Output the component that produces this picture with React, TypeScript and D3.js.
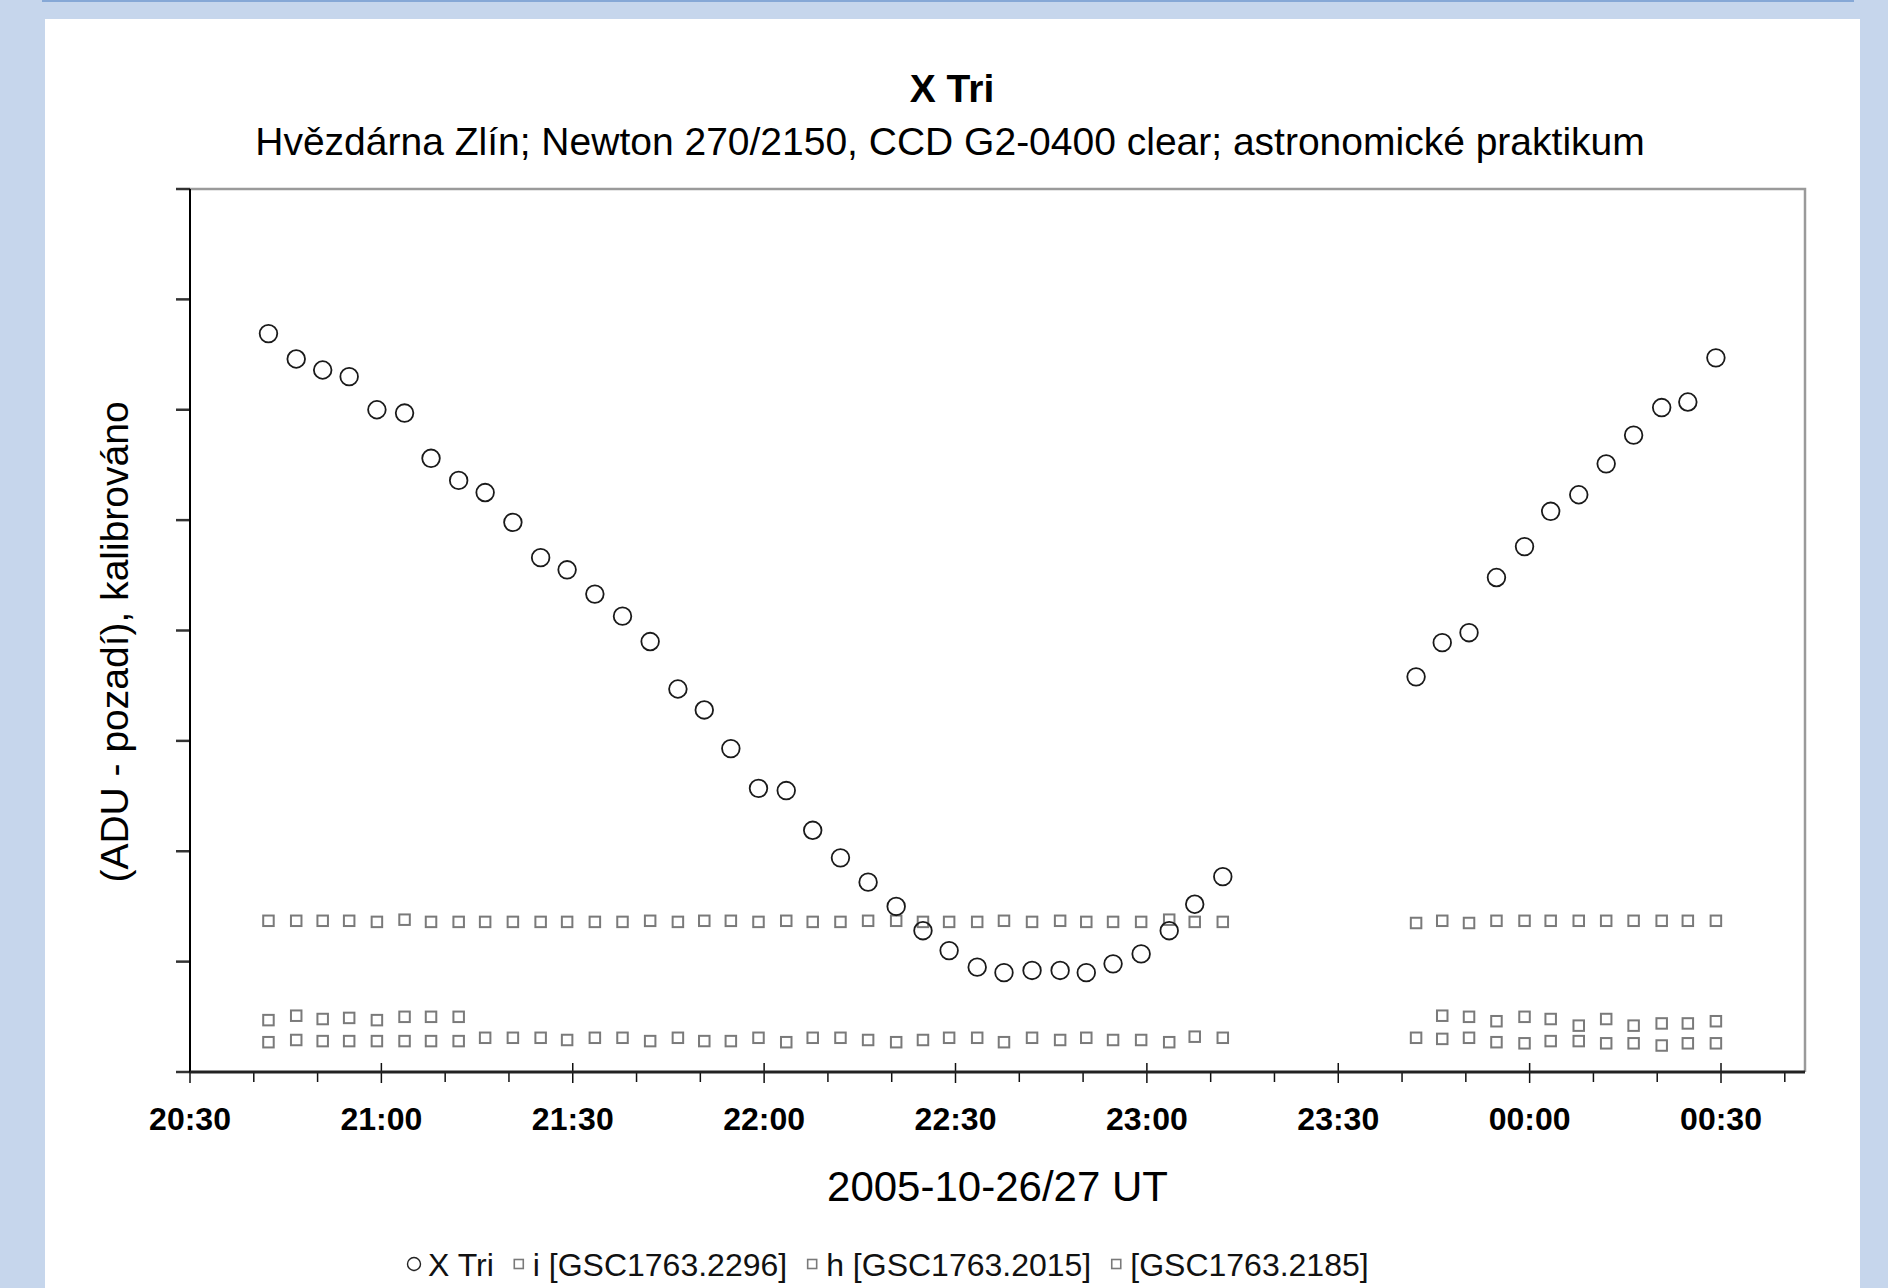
import * as d3 from 'd3';
import React, {useEffect, useRef} from "react";

const WIDTH = 1888;
const HEIGHT = 1288;
const FONT = "'Liberation Sans', Arial, Helvetica, sans-serif";

const TITLE = "X Tri";
const SUBTITLE = "Hvězdárna Zlín; Newton 270/2150, CCD G2-0400 clear; astronomické praktikum";
const X_LABEL = "2005-10-26/27 UT";
const Y_LABEL = "(ADU - pozadí), kalibrováno";
const SERIES_NAMES = ["X Tri", "i [GSC1763.2296]", "h [GSC1763.2015]", "[GSC1763.2185]"];

// exposure times (UT), night 2005-10-26/27
const times = [
    "20:42:18", "20:46:39", "20:50:48", "20:54:57", "20:59:18", "21:03:38", "21:07:47", "21:12:07",
    "21:16:16", "21:20:37", "21:24:58", "21:29:07", "21:33:28", "21:37:48", "21:42:08", "21:46:29",
    "21:50:37", "21:54:47", "21:59:07", "22:03:28", "22:07:37", "22:11:58", "22:16:18", "22:20:42",
    "22:24:54", "22:29:00", "22:33:24", "22:37:36", "22:42:00", "22:46:24", "22:50:30", "22:54:42",
    "22:59:06", "23:03:30", "23:07:30", "23:11:54",
    "23:42:12", "23:46:18", "23:50:30", "23:54:48", "23:59:12", "00:03:18", "00:07:42", "00:12:00",
    "00:16:18", "00:20:42", "00:24:48", "00:29:12",
];

// y is in tick units (no labels on the axis)
const xTri = [
    6.69, 6.46, 6.36, 6.30, 6.00, 5.97, 5.56, 5.36, 5.25, 4.98, 4.66, 4.55,
    4.33, 4.13, 3.90, 3.47, 3.28, 2.93, 2.57, 2.55, 2.19, 1.94, 1.72, 1.50,
    1.28, 1.10, 0.95, 0.90, 0.92, 0.92, 0.90, 0.98, 1.07, 1.28, 1.52, 1.77,
    3.58, 3.89, 3.98, 4.48, 4.76, 5.08, 5.23, 5.51, 5.77, 6.02, 6.07, 6.47,
];

const starI = [
    1.37, 1.37, 1.37, 1.37, 1.36, 1.38, 1.36, 1.36, 1.36, 1.36, 1.36, 1.36,
    1.36, 1.36, 1.37, 1.36, 1.37, 1.37, 1.36, 1.37, 1.36, 1.36, 1.37, 1.37,
    1.36, 1.36, 1.36, 1.37, 1.36, 1.37, 1.36, 1.36, 1.36, 1.38, 1.36, 1.36,
    1.35, 1.37, 1.35, 1.37, 1.37, 1.37, 1.37, 1.37, 1.37, 1.37, 1.37, 1.37,
];

const starH = [
    0.27, 0.29, 0.28, 0.28, 0.28, 0.28, 0.28, 0.28, 0.31, 0.31, 0.31, 0.29,
    0.31, 0.31, 0.28, 0.31, 0.28, 0.28, 0.31, 0.27, 0.31, 0.31, 0.29, 0.27,
    0.29, 0.31, 0.31, 0.27, 0.31, 0.29, 0.31, 0.29, 0.29, 0.27, 0.32, 0.31,
    0.31, 0.30, 0.31, 0.27, 0.26, 0.28, 0.28, 0.26, 0.26, 0.24, 0.26, 0.26,
];

const star2185 = [
    0.47, 0.51, 0.48, 0.49, 0.47, 0.50, 0.50, 0.50, null, null, null, null,
    null, null, null, null, null, null, null, null, null, null, null, null,
    null, null, null, null, null, null, null, null, null, null, null, null,
    null, 0.51, 0.50, 0.46, 0.50, 0.48, 0.42, 0.48, 0.42, 0.44, 0.44, 0.46,
];

const parseTime = (s: string) => {
    const [h, m, sec] = s.split(":").map(Number);
    const day = h < 12 ? 27 : 26;
    return new Date(Date.UTC(2005, 9, day, h, m, sec));
};

const PLOT = {left: 190, right: 1805, top: 189, bottom: 1072};

export default function App() {
    const svgRef = useRef<SVGSVGElement>(null);

    useEffect(() => {
        document.body.style.margin = "0";
        const svg = d3.select(svgRef.current);
        svg.selectAll("*").remove();

        const x = d3.scaleUtc()
            .domain([new Date(Date.UTC(2005, 9, 26, 20, 30)), new Date(Date.UTC(2005, 9, 27, 0, 43, 10))])
            .range([PLOT.left, PLOT.right]);
        const y = d3.scaleLinear().domain([0, 8]).range([PLOT.bottom, PLOT.top]);

        // page background
        svg.append("rect").attr("width", WIDTH).attr("height", HEIGHT).attr("fill", "#c6d6ec");
        svg.append("rect").attr("x", 42).attr("y", 0).attr("width", 1812).attr("height", 2).attr("fill", "#86a8d6");
        svg.append("rect").attr("x", 45).attr("y", 19).attr("width", 1815).attr("height", HEIGHT - 19).attr("fill", "#fff");

        svg.append("text").text(TITLE)
            .attr("x", 952).attr("y", 102).attr("text-anchor", "middle")
            .attr("font-family", FONT).attr("font-size", 39).attr("font-weight", "bold");
        svg.append("text").text(SUBTITLE)
            .attr("x", 950).attr("y", 155).attr("text-anchor", "middle")
            .attr("font-family", FONT).attr("font-size", 39);

        // frame: grey top/right
        svg.append("path")
            .attr("d", `M${PLOT.left},${PLOT.top}H${PLOT.right}V${PLOT.bottom}`)
            .attr("fill", "none").attr("stroke", "#9a9a9a").attr("stroke-width", 2.5);

        // y ticks
        svg.append("g").selectAll("line").data(y.ticks(8)).join("line")
            .attr("x1", PLOT.left - 14).attr("x2", PLOT.left)
            .attr("y1", d => y(d)).attr("y2", d => y(d))
            .attr("stroke", "#333").attr("stroke-width", 2.5);

        // x ticks
        const major = x.ticks(d3.utcMinute.every(30)!);
        const minor = x.ticks(d3.utcMinute.every(10)!).filter(t => t.getUTCMinutes() % 30 !== 0);
        svg.append("g").selectAll("line").data(minor).join("line")
            .attr("x1", d => x(d)).attr("x2", d => x(d))
            .attr("y1", PLOT.bottom).attr("y2", PLOT.bottom + 10)
            .attr("stroke", "#111").attr("stroke-width", 1.5);
        svg.append("g").selectAll("line").data(major).join("line")
            .attr("x1", d => x(d)).attr("x2", d => x(d))
            .attr("y1", PLOT.bottom - 9).attr("y2", PLOT.bottom + 11)
            .attr("stroke", "#111").attr("stroke-width", 1.5);
        svg.append("g").selectAll("text").data(major).join("text")
            .text(d => d3.utcFormat("%H:%M")(d))
            .attr("x", d => x(d)).attr("y", 1130).attr("text-anchor", "middle")
            .attr("font-family", FONT).attr("font-size", 32).attr("font-weight", "bold");

        // axes lines
        svg.append("line").attr("x1", PLOT.left).attr("x2", PLOT.left)
            .attr("y1", PLOT.top).attr("y2", PLOT.bottom)
            .attr("stroke", "#000").attr("stroke-width", 2);
        svg.append("line").attr("x1", PLOT.left).attr("x2", PLOT.right)
            .attr("y1", PLOT.bottom).attr("y2", PLOT.bottom)
            .attr("stroke", "#222").attr("stroke-width", 3);

        svg.append("text").text(X_LABEL)
            .attr("x", (PLOT.left + PLOT.right) / 2).attr("y", 1201).attr("text-anchor", "middle")
            .attr("font-family", FONT).attr("font-size", 42);
        svg.append("text").text(Y_LABEL)
            .attr("transform", `translate(128,642) rotate(-90)`).attr("text-anchor", "middle")
            .attr("font-family", FONT).attr("font-size", 39);

        // comparison stars
        const SQ = 10.5;
        [starI, starH, star2185].forEach(vals => {
            const pts = vals.map((v, i) => ({t: parseTime(times[i]), v})).filter(d => d.v !== null);
            svg.append("g").selectAll("rect").data(pts).join("rect")
                .attr("x", d => x(d.t) - SQ / 2).attr("y", d => y(d.v as number) - SQ / 2)
                .attr("width", SQ).attr("height", SQ)
                .attr("fill", "none").attr("stroke", "#7a7a7a").attr("stroke-width", 2);
        });

        // variable
        svg.append("g").selectAll("circle").data(xTri.map((v, i) => ({t: parseTime(times[i]), v}))).join("circle")
            .attr("cx", d => x(d.t)).attr("cy", d => y(d.v)).attr("r", 8.8)
            .attr("fill", "none").attr("stroke", "#1a1a1a").attr("stroke-width", 1.8);

        // legend
        const legend = svg.append("g").attr("font-family", FONT).attr("font-size", 32).attr("fill", "#111");
        let lx = 407;
        const ly = 1276;
        SERIES_NAMES.forEach((name, i) => {
            if (i === 0) {
                legend.append("circle").attr("cx", lx + 7).attr("cy", ly - 12).attr("r", 6.5)
                    .attr("fill", "none").attr("stroke", "#222").attr("stroke-width", 1.4);
            } else {
                legend.append("rect").attr("x", lx + 2.5).attr("y", ly - 16.5).attr("width", 9).attr("height", 9)
                    .attr("fill", "none").attr("stroke", "#7a7a7a").attr("stroke-width", 1.6);
            }
            const t = legend.append("text").text(name).attr("x", lx + 21).attr("y", ly);
            const w = (t.node() as SVGTextElement).getComputedTextLength();
            lx += 21 + w + 18;
        });
    }, []);

    return (
        <svg ref={svgRef} width={WIDTH} height={HEIGHT} style={{display: "block", position: "absolute", left: 0, top: 0}}/>
    );
}
